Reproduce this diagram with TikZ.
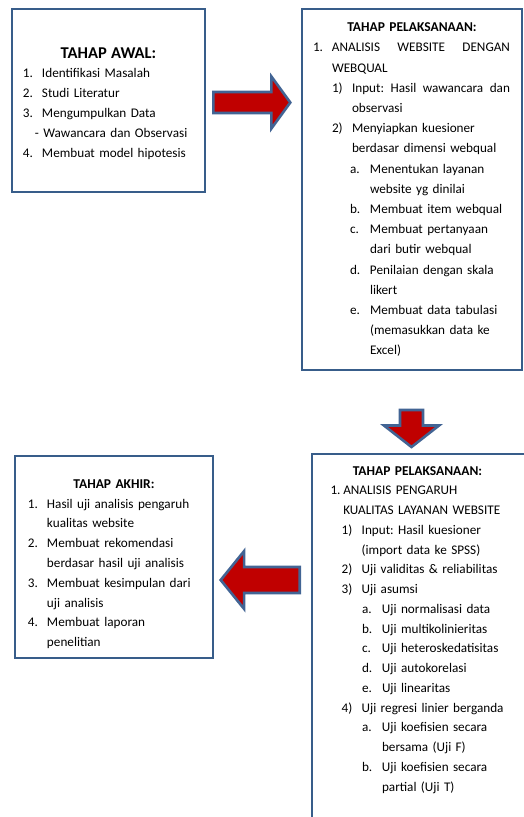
\documentclass[tikz,border=0pt]{standalone}
\usepackage{fontspec}
\setmainfont{Carlito}
\usetikzlibrary{shapes.arrows}
\frenchspacing

\definecolor{boxblue}{RGB}{56,93,138}
\definecolor{arrowblue}{RGB}{66,100,148}
\definecolor{arrowred}{RGB}{192,0,0}

\newlength{\rmarg}
% one numbered line: label x, text x, label
\newcommand{\itm}[3]{\par\leftskip=#2\relax\rightskip=\rmarg\relax\noindent\llap{\makebox[\dimexpr#2-#1\relax][l]{#3}}\ignorespaces}

\tikzset{
  stagebox/.style={draw=boxblue, line width=2.6pt, rectangle, inner sep=0pt, outer sep=0pt, anchor=north west},
  stagetext/.style={anchor=base west, inner sep=0pt, outer sep=0pt, font=\fontsize{13.2}{19.8}\selectfont},
  bigarrow/.style={single arrow, draw=arrowblue, fill=arrowred, line width=2.6pt, inner sep=#1, outer sep=0pt, single arrow head indent=0pt, anchor=tail},
  bigarrow/.default=10pt
}

\begin{document}
\begin{tikzpicture}[x=1pt,y=1pt]
  \clip (0,0) rectangle (524,-817);

  % Boxes of the stages
  \node[stagebox, minimum width=193pt, minimum height=183pt] (awal) at (12,-9) {};
  \node[stagebox, minimum width=220pt, minimum height=361pt] (pelaksanaan) at (302,-9) {};
  \node[stagebox, minimum width=215pt, minimum height=380pt] (analisis) at (312,-454) {};
  \node[stagebox, minimum width=198pt, minimum height=202pt] (akhir) at (15,-456) {};

  % Texts
  \node[stagetext, text width=193pt] (awalText) at ([yshift=-49pt]awal.north west) {%
    \makebox[\linewidth]{\fontsize{16.5}{20}\selectfont\bfseries TAHAP AWAL:}%
    \itm{11pt}{30pt}{1.}Identifikasi Masalah
    \itm{11pt}{30pt}{2.}Studi Literatur
    \itm{11pt}{30pt}{3.}Mengumpulkan Data
    \itm{23pt}{23pt}{}- Wawancara dan Observasi
    \itm{11pt}{30pt}{4.}Membuat model hipotesis\par};

  \node[stagetext, text width=220pt, font=\fontsize{13.2}{20.2}\selectfont] (pelaksanaanText) at ([yshift=-22.7pt]pelaksanaan.north west) {%
    \setlength{\rmarg}{12pt}%
    \makebox[\linewidth]{\fontsize{13.5}{20}\selectfont\bfseries TAHAP PELAKSANAAN:}%
    \itm{11pt}{30pt}{1.}ANALISIS\hfill WEBSITE\hfill DENGAN\\WEBQUAL
    \itm{30pt}{50pt}{1)}Input:\hfill Hasil\hfill wawancara\hfill dan\\observasi
    \itm{30pt}{50pt}{2)}Menyiapkan kuesioner\\berdasar dimensi webqual
    \itm{48pt}{68pt}{a.}Menentukan layanan\\website yg dinilai
    \itm{48pt}{68pt}{b.}Membuat item webqual
    \itm{48pt}{68pt}{c.}Membuat pertanyaan\\dari butir webqual
    \itm{48pt}{68pt}{d.}Penilaian dengan skala\\likert
    \itm{48pt}{68pt}{e.}Membuat data tabulasi\\(memasukkan data ke\\Excel)\par};

  \node[stagetext, text width=211pt, font=\fontsize{13.2}{19.75}\selectfont] (analisisText) at ([yshift=-21pt]analisis.north west) {%
    \makebox[\linewidth]{\fontsize{13.5}{20}\selectfont\bfseries TAHAP PELAKSANAAN:}%
    \itm{18.5pt}{31.3pt}{1.}ANALISIS PENGARUH\\KUALITAS LAYANAN WEBSITE
    \itm{29.7pt}{49.7pt}{1)}Input: Hasil kuesioner\\(import data ke SPSS)
    \itm{29.7pt}{49.7pt}{2)}Uji validitas \& reliabilitas
    \itm{29.7pt}{49.7pt}{3)}Uji asumsi
    \itm{50pt}{70pt}{a.}Uji normalisasi data
    \itm{50pt}{70pt}{b.}Uji multikolinieritas
    \itm{50pt}{70pt}{c.}Uji heteroskedatisitas
    \itm{50pt}{70pt}{d.}Uji autokorelasi
    \itm{50pt}{70pt}{e.}Uji linearitas
    \itm{29.7pt}{49.7pt}{4)}Uji regresi linier berganda
    \itm{50pt}{70pt}{a.}Uji koefisien secara\\bersama (Uji F)
    \itm{50pt}{70pt}{b.}Uji koefisien secara\\partial (Uji T)\par};

  \node[stagetext, text width=198pt] (akhirText) at ([yshift=-32.3pt]akhir.north west) {%
    \makebox[\linewidth]{\fontsize{13.5}{20}\selectfont\bfseries TAHAP AKHIR:}%
    \itm{13pt}{32pt}{1.}Hasil uji analisis pengaruh\\kualitas website
    \itm{13pt}{32pt}{2.}Membuat rekomendasi\\berdasar hasil uji analisis
    \itm{13pt}{32pt}{3.}Membuat kesimpulan dari\\uji analisis
    \itm{13pt}{32pt}{4.}Membuat laporan\\penelitian\par};

  % Block arrows between the stages
  \node[bigarrow=9.2pt, single arrow head extend=15.5pt, minimum height=77pt, single arrow tip angle=108] (arrAwal) at (213.3,-102.5) {};
  \node[bigarrow=10.2pt, single arrow head extend=16pt, minimum height=37pt, single arrow tip angle=104, shape border rotate=270] (arrPelaksanaan) at (411.5,-410) {};
  \node[bigarrow=11.7pt, single arrow head extend=16pt, minimum height=79pt, single arrow tip angle=102, shape border rotate=180] (arrAkhir) at (299.7,-580) {};
\end{tikzpicture}
\end{document}
